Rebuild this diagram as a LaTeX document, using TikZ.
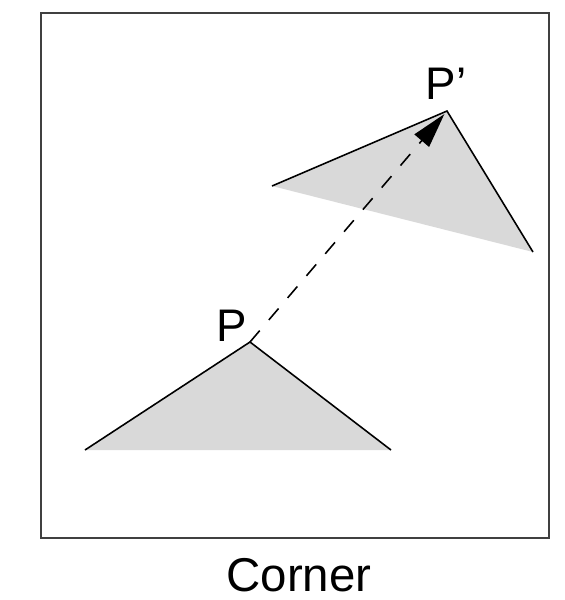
\documentclass[tikz,border=0pt]{standalone}
\usepackage{fontspec}
\setmainfont{Liberation Sans}
\usetikzlibrary{positioning,arrows.meta}
\definecolor{triGray}{HTML}{D9D9D9}
\definecolor{frameGray}{HTML}{404040}

\begin{document}
\begin{tikzpicture}[x=0.02cm, y=-0.02cm]
\useasboundingbox (0,0) rectangle (565,600);
% Frame
\draw[frameGray, line width=0.8pt] (41,13) rectangle (549,538);

% Corner points
\coordinate (p)  at (250,342);
\coordinate (pl) at (85,450);
\coordinate (pr) at (391,450);
\coordinate (q)  at (447,111);
\coordinate (ql) at (272,186);
\coordinate (qr) at (533,252);

% Triangles (filled, two edges drawn)
\fill[triGray] (pl) -- (p) -- (pr) -- cycle;
\draw[line width=0.9pt] (pl) -- (p) -- (pr);
\fill[triGray] (ql) -- (q) -- (qr) -- cycle;
\draw[line width=0.9pt] (ql) -- (q) -- (qr);

% Displacement
\draw[-{Triangle[length=0.7cm, width=0.38cm]}, line width=0.9pt, dash pattern=on 0.3cm off 0.28cm, shorten >=0.08cm] (p) -- (q);

% Labels
\node[font=\fontsize{26}{30}\selectfont] (plabel) at (232,326) {P};
\node[font=\fontsize{26}{30}\selectfont] (qlabel) at (446,84) {P'};
\node[font=\fontsize{27}{32}\selectfont] (title) at (299,575) {Corner};
\end{tikzpicture}
\end{document}
